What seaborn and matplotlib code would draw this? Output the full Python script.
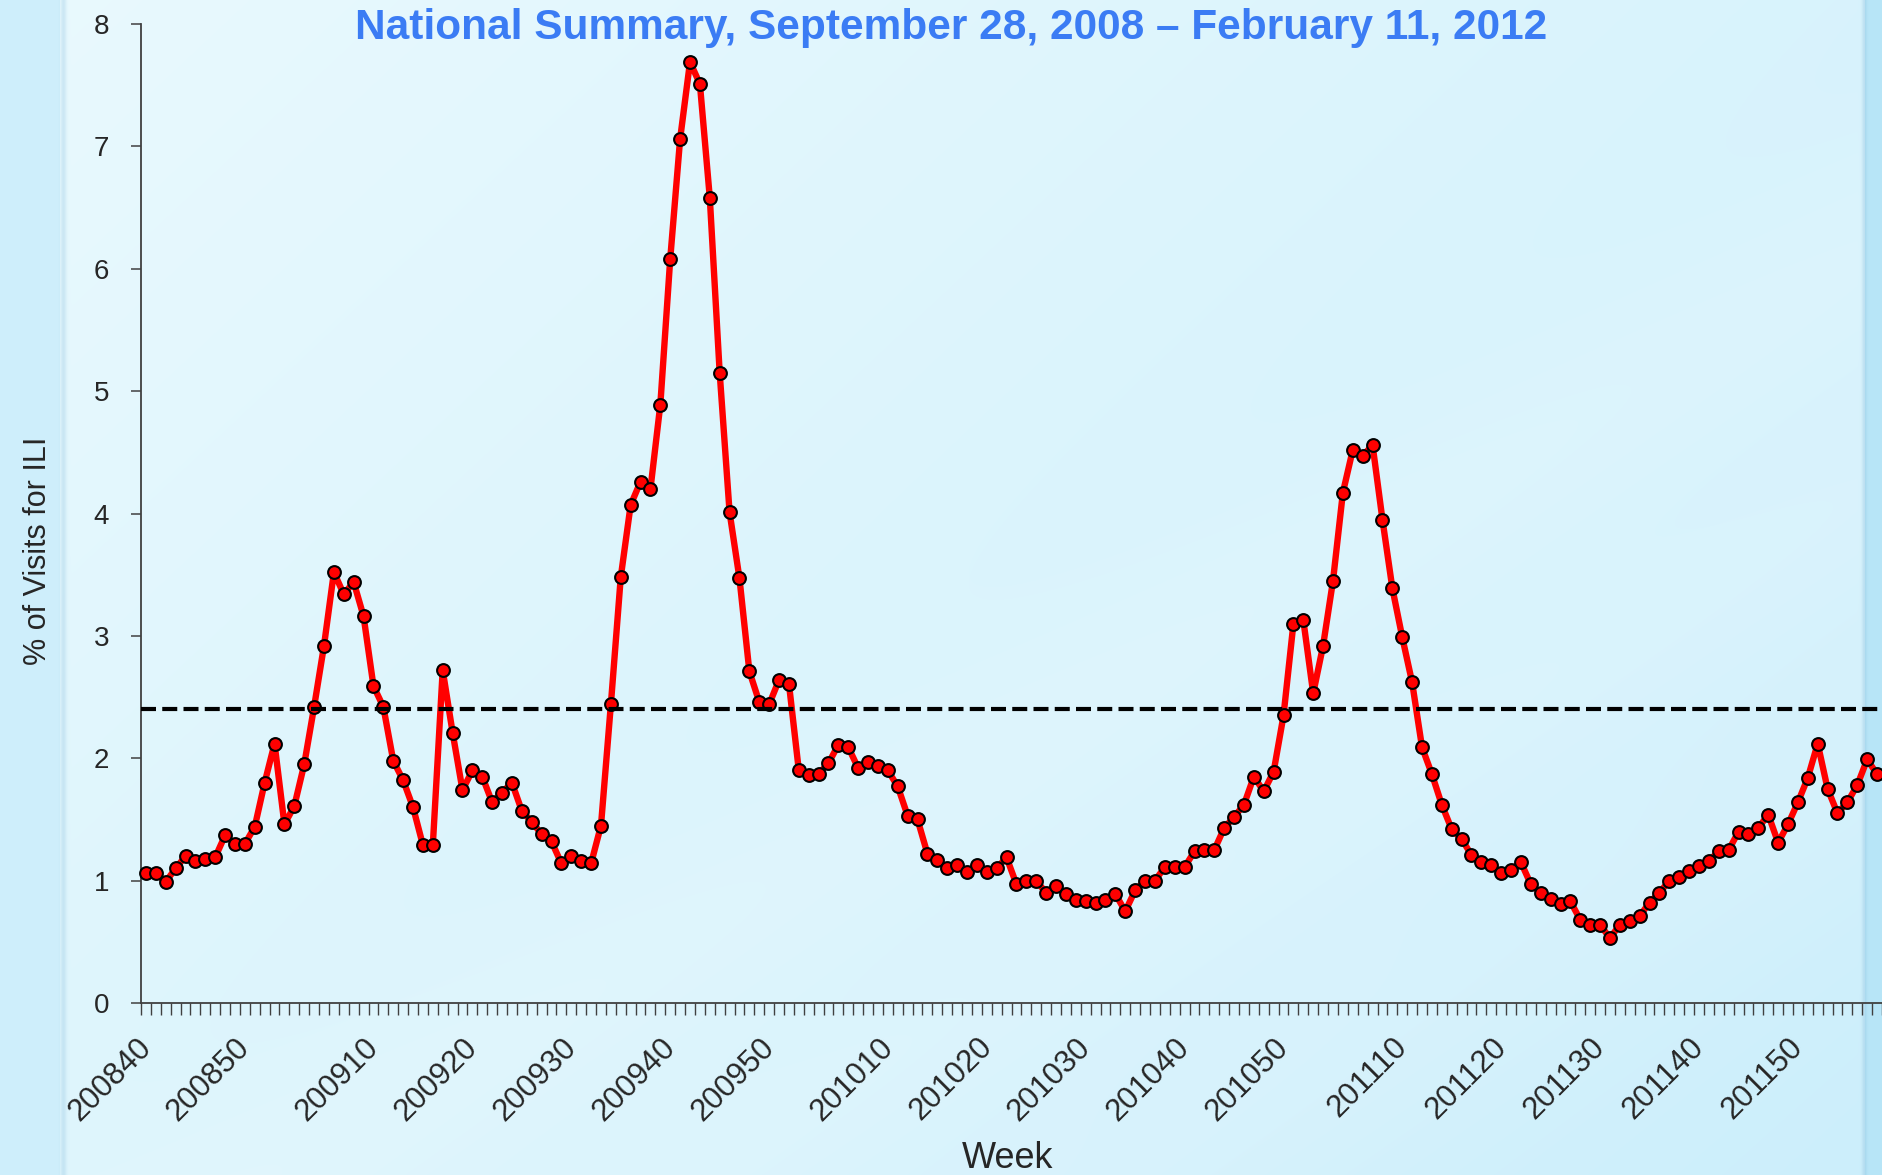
import numpy as np
import pandas as pd
import matplotlib
matplotlib.use("Agg")
import matplotlib.pyplot as plt
import matplotlib.transforms as mtransforms
import seaborn as sns

# ---------------- data ----------------
TITLE = "National Summary, September 28, 2008 \u2013 February 11, 2012"
Y_LABEL = "% of Visits for ILI"
X_LABEL = "Week"
BASELINE = 2.4

# MMWR weeks: 2008 has 53 weeks
season_years = [2008, 2009, 2010, 2011, 2012]
first_week = [40, 1, 1, 1, 1]
last_week = [53, 52, 52, 52, 6]

ili_pct = [
    1.06, 1.06, 0.99, 1.10, 1.20, 1.16, 1.18, 1.19, 1.37, 1.30,
    1.30, 1.44, 1.80, 2.12, 1.46, 1.61, 1.95, 2.42, 2.92, 3.52,
    3.34, 3.44, 3.16, 2.59, 2.42, 1.98, 1.82, 1.60, 1.29, 1.29,
    2.72, 2.21, 1.74, 1.90, 1.85, 1.64, 1.72, 1.80, 1.57, 1.48,
    1.38, 1.32, 1.14, 1.20, 1.16, 1.14, 1.45, 2.44, 3.48, 4.07,
    4.26, 4.20, 4.89, 6.08, 7.06, 7.69, 7.51, 6.58, 5.15, 4.01,
    3.47, 2.71, 2.46, 2.44, 2.64, 2.61, 1.90, 1.86, 1.87, 1.96,
    2.11, 2.09, 1.92, 1.97, 1.94, 1.90, 1.77, 1.53, 1.50, 1.22,
    1.17, 1.10, 1.13, 1.07, 1.13, 1.07, 1.10, 1.19, 0.97, 1.00,
    1.00, 0.90, 0.96, 0.89, 0.84, 0.83, 0.82, 0.84, 0.89, 0.75,
    0.92, 1.00, 1.00, 1.11, 1.11, 1.11, 1.24, 1.25, 1.25, 1.43,
    1.52, 1.62, 1.85, 1.73, 1.89, 2.35, 3.10, 3.13, 2.53, 2.92,
    3.45, 4.17, 4.52, 4.47, 4.56, 3.95, 3.39, 2.99, 2.62, 2.09,
    1.87, 1.62, 1.42, 1.34, 1.21, 1.15, 1.13, 1.06, 1.09, 1.15,
    0.97, 0.90, 0.85, 0.81, 0.83, 0.68, 0.64, 0.64, 0.53, 0.64,
    0.67, 0.71, 0.82, 0.90, 1.00, 1.03, 1.08, 1.12, 1.16, 1.24,
    1.25, 1.40, 1.38, 1.43, 1.54, 1.31, 1.46, 1.64, 1.84, 2.12,
    1.75, 1.55, 1.64, 1.78, 1.99, 1.87,
]

week_labels = []
for yr, w0, w1 in zip(season_years, first_week, last_week):
    for w in range(w0, w1 + 1):
        week_labels.append(f"{yr}{w:02d}")

df = pd.DataFrame({"pos": np.arange(len(ili_pct)), "week": week_labels, "ili": ili_pct})

# ---------------- figure ----------------
W, H = 1882, 1175
sns.set_style("white")
plt.rcParams["font.family"] = ["Liberation Sans", "DejaVu Sans"]

fig = plt.figure(figsize=(W / 100, H / 100), dpi=100)

# slide-like background
yy, xx = np.mgrid[0:H, 0:W].astype(float)
c1 = np.array([0.915, 0.978, 0.995])
c2 = np.array([0.80, 0.935, 0.985])
t = np.clip(0.6 * xx / W + 0.4 * yy / H, 0, 1)[..., None]
bg = c1 * (1 - t) + c2 * t
# soft diagonal light rays
for x0, y0, wdt, amp in [(300, 1175, 120, 0.035), (700, 1175, 90, 0.03), (1100, 1175, 140, 0.025)]:
    d = ((xx - x0) * 0.5 + (yy - y0) * 0.866)
    band = np.exp(-(d / wdt) ** 2)[..., None]
    bg = bg + amp * band * (np.array([1, 1, 1]) - bg) * 4
bg = np.clip(bg, 0, 1)
# left strip and edge
left = xx < 60
bg[left] = np.array([0.81, 0.935, 0.985])
edge = np.exp(-((xx - 63) / 3.0) ** 2)[..., None]
bg = bg * (1 - 0.3 * edge) + np.array([0.55, 0.75, 0.87]) * 0.3 * edge
right = xx > 1864
bg[right] = np.array([0.72, 0.90, 0.97])
edge2 = np.exp(-((xx - 1864) / 2.5) ** 2)[..., None]
bg = bg * (1 - 0.35 * edge2) + np.array([0.55, 0.75, 0.87]) * 0.35 * edge2

bg_ax = fig.add_axes([0, 0, 1, 1], zorder=-10)
bg_ax.imshow(bg, extent=[0, W, H, 0], aspect="auto", interpolation="bilinear")
bg_ax.set_xlim(0, W)
bg_ax.set_ylim(H, 0)
bg_ax.axis("off")

# main axes
ax_left, ax_right, ax_top, ax_bottom = 141, 1882, 24, 1003
ax = fig.add_axes([ax_left / W, 1 - ax_bottom / H, (ax_right - ax_left) / W, (ax_bottom - ax_top) / H])
ax.set_facecolor("none")

sns.lineplot(
    data=df, x="pos", y="ili", ax=ax, color="#FF0000", linewidth=4.6,
    marker="o", markersize=9.2, markerfacecolor="#FF0000",
    markeredgecolor="black", markeredgewidth=1.5,
    estimator=None, errorbar=None, clip_on=False, zorder=3,
)
ax.axhline(BASELINE, color="black", linewidth=3.0, linestyle=(0, (3.6, 1.5)), zorder=5)

ax.set_xlim(-0.5, len(ili_pct) - 0.5)
ax.set_ylim(0, 8)
ax.set_yticks(range(0, 9))
ax.tick_params(axis="y", which="major", direction="out", length=7, width=1.1,
               color="#404040", labelsize=20, pad=16, left=True)

label_pos = [i for i, w in enumerate(week_labels) if int(w[4:]) % 10 == 0]
ax.set_xticks(label_pos)
ax.set_xticklabels([week_labels[i] for i in label_pos], rotation=45, ha="right",
                   va="top", rotation_mode="anchor", fontsize=22.3)
ax.set_xticks(np.arange(-0.5, len(ili_pct)), minor=True)
ax.tick_params(axis="x", which="major", length=0, pad=21, bottom=True)
ax.tick_params(axis="x", which="minor", direction="out", length=8.5, width=1.0,
               color="#404040", bottom=True)
shift = mtransforms.ScaledTranslation(-10 / 100, 0, fig.dpi_scale_trans)
for lab in ax.get_xticklabels():
    lab.set_transform(lab.get_transform() + shift)

for s in ["top", "right"]:
    ax.spines[s].set_visible(False)
for s in ["left", "bottom"]:
    ax.spines[s].set_color("#404040")
    ax.spines[s].set_linewidth(1.3)
ax.set_xlabel("")
ax.set_ylabel("")

fig.text(951 / W, 1 - 39 / H, TITLE, ha="center", va="baseline", fontsize=30.5,
         fontweight="bold", color="#3B7CF4")
fig.text(38 / W, 1 - 551 / H, Y_LABEL, ha="center", va="center", rotation=90, fontsize=22)
fig.text(1008 / W, 1 - 1168 / H, X_LABEL, ha="center", va="baseline", fontsize=26)

fig.savefig("out.png", dpi=100)
